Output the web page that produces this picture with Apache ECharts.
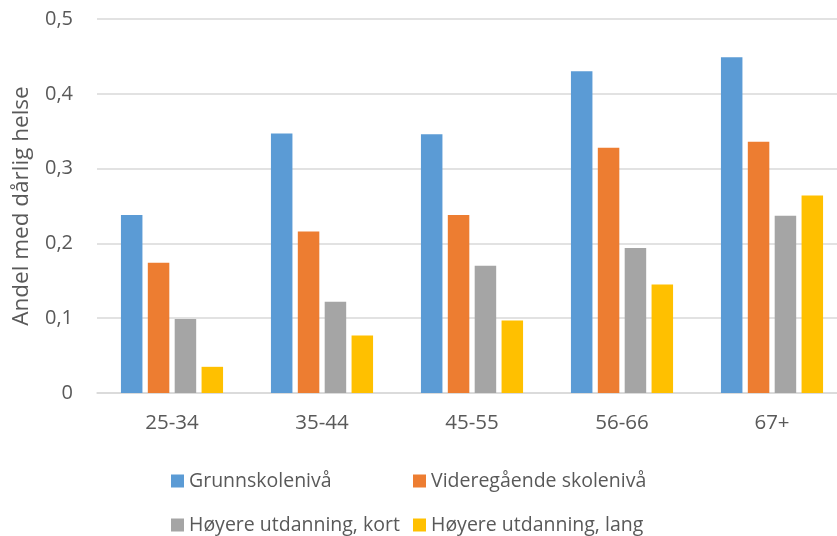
<!DOCTYPE html>
<html>
<head>
<meta charset="utf-8">
<script src="https://cdn.jsdelivr.net/npm/echarts@6/dist/echarts.min.js"></script>
<style>
  html, body { margin: 0; padding: 0; background: #ffffff; }
  #chart { width: 837px; height: 536px; }
</style>
</head>
<body>
<div id="chart"></div>
<script>
// Aldersgrupper og andel med dårlig helse etter utdanningsnivå
const ageGroups = ['25-34', '35-44', '45-55', '56-66', '67+'];
const grunnskole = [0.238, 0.347, 0.346, 0.430, 0.449];
const videregaende = [0.174, 0.216, 0.238, 0.328, 0.336];
const hoyereKort = [0.099, 0.122, 0.170, 0.194, 0.237];
const hoyereLang = [0.035, 0.077, 0.097, 0.145, 0.264];
const seriesNames = ['Grunnskolenivå', 'Videregående skolenivå', 'Høyere utdanning, kort', 'Høyere utdanning, lang'];
const colors = ['#5B9BD5', '#ED7D31', '#A5A5A5', '#FFC000'];

const FONT = 'Open Sans';
const TEXT = '#595959';

const chart = echarts.init(document.getElementById('chart'), null, { renderer: 'canvas' });

function legendAt(name, left, top) {
  return {
    data: [name],
    left: left,
    top: top,
    icon: 'rect',
    itemWidth: 13,
    itemHeight: 13,
    itemGap: 0,
    padding: 0,
    selectedMode: false,
    textStyle: { fontFamily: FONT, fontSize: 19.5, color: TEXT, padding: [0, 0, 0, 0] }
  };
}

const valueSeries = [grunnskole, videregaende, hoyereKort, hoyereLang];

chart.setOption({
  backgroundColor: '#ffffff',
  animation: false,
  color: colors,
  // plot area runs past the right edge of the canvas
  grid: {
    left: 97, top: 19, width: 750, height: 374,
    containLabel: false,
    outerBoundsMode: 'none'
  },
  legend: [
    legendAt(seriesNames[0], 171, 471),
    legendAt(seriesNames[1], 413, 471),
    legendAt(seriesNames[2], 171, 515),
    legendAt(seriesNames[3], 413, 515)
  ],
  xAxis: {
    type: 'category',
    data: ageGroups,
    axisLine: { show: true, lineStyle: { color: '#D9D9D9', width: 1.5 } },
    axisTick: { show: false },
    axisLabel: { fontFamily: FONT, fontSize: 20.5, color: TEXT, margin: 20 },
    splitLine: { show: false }
  },
  yAxis: {
    type: 'value',
    min: 0,
    max: 0.5,
    interval: 0.1,
    name: 'Andel med dårlig helse',
    nameLocation: 'middle',
    nameRotate: 90,
    nameGap: 64,
    nameTextStyle: { fontFamily: FONT, fontSize: 22.5, color: TEXT },
    axisLine: { show: false },
    axisTick: { show: false },
    axisLabel: {
      fontFamily: FONT, fontSize: 20, color: TEXT, margin: 24,
      formatter: function (v) { return v === 0 ? '0' : v.toFixed(1).replace('.', ','); }
    },
    splitLine: { show: true, lineStyle: { color: '#D9D9D9', width: 1.5 } }
  },
  series: valueSeries.map(function (vals, i) {
    return {
      name: seriesNames[i],
      type: 'bar',
      data: vals,
      barWidth: 21.5,
      barGap: '25%',
      itemStyle: { color: colors[i] }
    };
  })
});
</script>
</body>
</html>
